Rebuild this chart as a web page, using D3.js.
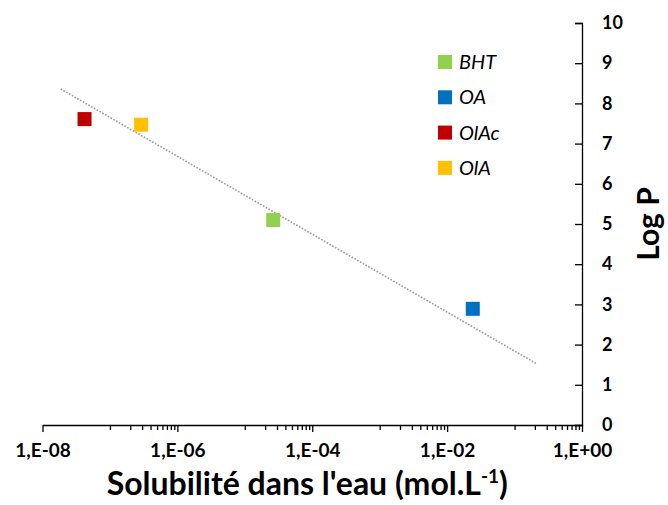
<!DOCTYPE html>
<html>
<head>
<meta charset="utf-8">
<script src="https://cdn.jsdelivr.net/npm/d3@7"></script>
<style>
    body { margin: 0; background: #fff; }
    text { font-family: Lato, "Open Sans", sans-serif; fill: #000; }
</style>
</head>
<body>
<div id="chart"></div>
<script>
// Data
const compounds = ["BHT", "OA", "OlAc", "OlA"];
const solubility = [2.64e-5, 2.4e-2, 4.2e-8, 2.9e-7];   // mol.L-1
const logP = [5.10, 2.89, 7.61, 7.47];
const colors = ["#92D050", "#0070C0", "#C00000", "#FFC000"];

// Trend line end points (solubility, log P)
const trendX = [1.86e-8, 0.209];
const trendY = [8.36, 1.53];

const xMajorTicks = [1e-8, 1e-6, 1e-4, 1e-2, 1];
const xTickLabels = ["1,E-08", "1,E-06", "1,E-04", "1,E-02", "1,E+00"];
const xMinorDecades = [1e-7, 1e-5, 1e-3, 1e-1];
const yTicks = [0, 1, 2, 3, 4, 5, 6, 7, 8, 9, 10];

const width = 668, height = 505;
const margin = { top: 23, right: 86, bottom: 80, left: 42.5 };

const svg = d3.select("#chart").append("svg")
    .attr("width", width)
    .attr("height", height);

const x = d3.scaleLog().domain([1e-8, 1]).range([margin.left, width - margin.right]);
const y = d3.scaleLinear().domain([0, 10]).range([height - margin.bottom, margin.top]);

// minor ticks: the odd decade plus 2..9 of it
const xMinorTicks = [];
xMinorDecades.forEach(d => { for (let k = 1; k <= 9; k++) xMinorTicks.push(d * k); });

// X axis
const xMinor = svg.append("g")
    .attr("transform", `translate(0,${y(0)})`)
    .call(d3.axisBottom(x).tickValues(xMinorTicks).tickSize(5).tickSizeOuter(0).tickFormat(""));
xMinor.select(".domain").remove();

const xAxis = svg.append("g")
    .attr("transform", `translate(0,${y(0)})`)
    .call(d3.axisBottom(x).tickValues(xMajorTicks).tickSize(7).tickSizeOuter(0)
        .tickPadding(12).tickFormat((d, i) => xTickLabels[i]));
xAxis.selectAll("text")
    .style("font-size", "19px")
    .style("font-weight", "bold")
    .attr("fill", "#000");

// Y axis on the right, ticks pointing left
const yAxis = svg.append("g")
    .attr("transform", `translate(${x(1)},0)`)
    .call(d3.axisRight(y).tickValues(yTicks).tickSizeInner(-7).tickSizeOuter(-7).tickPadding(20));
yAxis.selectAll("text")
    .style("font-size", "18px")
    .style("font-weight", "bold")
    .attr("fill", "#000");

svg.selectAll(".domain, .tick line").attr("stroke", "#000").attr("stroke-width", 1.3);

// Axis titles
const xTitle = svg.append("text")
    .attr("x", (x(1e-8) + x(1)) / 2 - 5)
    .attr("y", 495)
    .attr("text-anchor", "middle")
    .style("font-size", "32px")
    .style("font-weight", "bold");
xTitle.append("tspan").text("Solubilité dans l'eau (mol.L");
xTitle.append("tspan").attr("dy", -12).style("font-size", "19px").text("-1");
xTitle.append("tspan").attr("dy", 12).text(")");

svg.append("text")
    .attr("transform", `translate(${x(1) + 77},${(y(0) + y(10)) / 2}) rotate(-90)`)
    .attr("text-anchor", "middle")
    .style("font-size", "30px")
    .style("font-weight", "bold")
    .text("Log P");

// Trend line
svg.append("line")
    .attr("x1", x(trendX[0])).attr("y1", y(trendY[0]))
    .attr("x2", x(trendX[1])).attr("y2", y(trendY[1]))
    .attr("stroke", "#9a9a9a")
    .attr("stroke-width", 1.6)
    .attr("stroke-dasharray", "1.6,1.6");

// Points
const pts = compounds.map((c, i) => ({ name: c, s: solubility[i], p: logP[i], color: colors[i] }));
const size = 14;
svg.selectAll(".pt")
    .data(pts)
    .enter()
    .append("rect")
    .attr("class", "pt")
    .attr("x", d => x(d.s) - size / 2)
    .attr("y", d => y(d.p) - size / 2)
    .attr("width", size)
    .attr("height", size)
    .attr("fill", d => d.color);

// Legend
const legend = svg.append("g").attr("transform", "translate(438,62)");
const legendItems = legend.selectAll("g")
    .data(pts)
    .enter()
    .append("g")
    .attr("transform", (d, i) => `translate(0,${i * 35.3})`);
legendItems.append("rect")
    .attr("x", 0).attr("y", -7)
    .attr("width", 14).attr("height", 14)
    .attr("fill", d => d.color);
legendItems.append("text")
    .attr("x", 21).attr("y", 7)
    .style("font-size", "20px")
    .style("font-style", "italic")
    .text(d => d.name);
</script>
</body>
</html>
